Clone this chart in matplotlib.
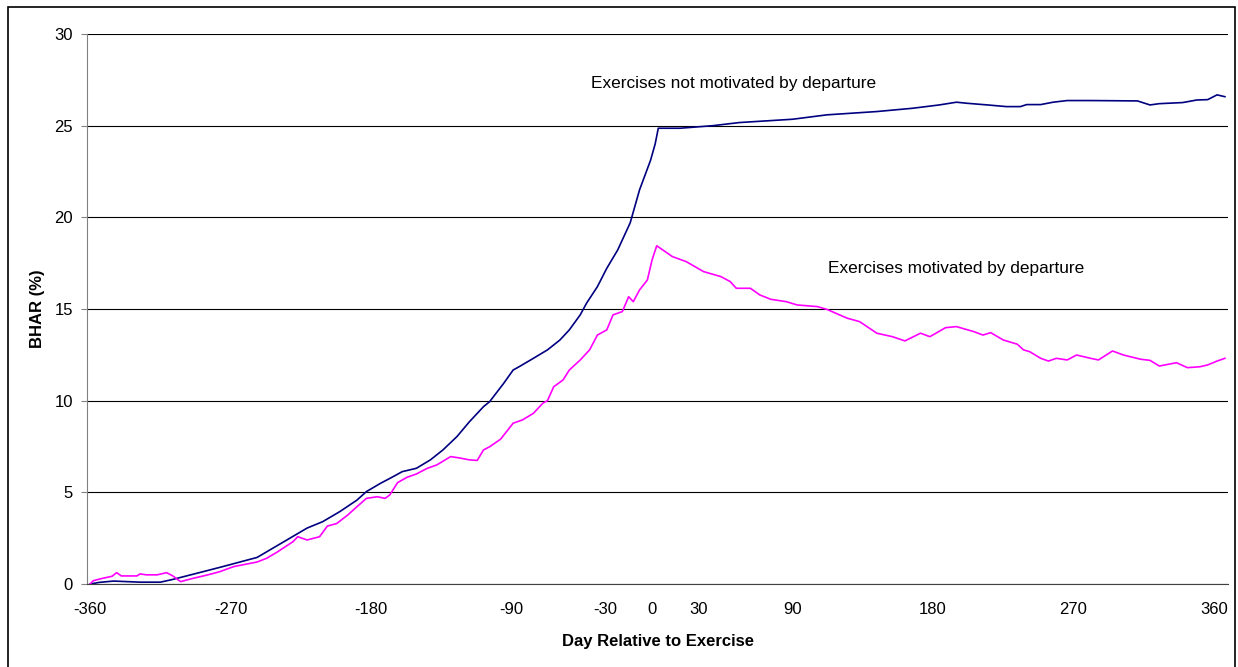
import matplotlib
matplotlib.use("Agg")
import matplotlib.pyplot as plt
from matplotlib.patches import Rectangle

plt.rcParams["font.family"] = ["Liberation Sans", "DejaVu Sans"]
plt.rcParams["axes.unicode_minus"] = False

# BHAR (%) by day relative to exercise, exercises not motivated by departure
days_not = [-360, -354, -345, -328, -315, -307, -296, -285, -275, -264, -253, -245,
            -232, -221, -211, -200, -189, -183, -174, -166, -160, -151, -142, -134,
            -125, -117, -108, -104, -95, -89, -85, -76, -67, -59, -53, -46, -42,
            -35, -29, -22, -14, -8, -1, 2, 4, 18, 39, 56, 90, 112, 144, 167, 184,
            195, 202, 215, 227, 236, 240, 249, 257, 266, 281, 311, 319, 325, 340,
            349, 356, 362, 367]
bhar_not = [0.0, 0.09, 0.16, 0.10, 0.10, 0.25, 0.49, 0.73, 0.95, 1.2, 1.45, 1.85,
            2.5, 3.05, 3.4, 3.95, 4.58, 5.04, 5.49, 5.85, 6.13, 6.31, 6.77, 7.31,
            8.04, 8.85, 9.67, 9.95, 10.95, 11.67, 11.86, 12.31, 12.77, 13.31, 13.86,
            14.68, 15.31, 16.22, 17.22, 18.22, 19.7, 21.5, 23.1, 24.0, 24.86, 24.86,
            25.0, 25.17, 25.35, 25.59, 25.77, 25.95, 26.13, 26.28, 26.22, 26.13,
            26.04, 26.04, 26.15, 26.15, 26.28, 26.37, 26.37, 26.35, 26.13, 26.2,
            26.26, 26.4, 26.42, 26.68, 26.58]

# exercises motivated by departure
days_dep = [-360, -358, -352, -346, -343, -340, -330, -328, -324, -317, -311, -307,
            -304, -302, -294, -285, -277, -268, -259, -253, -247, -240, -230, -227,
            -221, -213, -208, -202, -195, -189, -183, -176, -171, -168, -163, -157,
            -151, -144, -138, -129, -123, -117, -112, -108, -104, -97, -89, -83,
            -76, -70, -67, -63, -57, -53, -46, -40, -35, -29, -25, -19, -15, -12,
            -8, -3, 0, 3, 13, 22, 33, 44, 50, 54, 63, 69, 76, 86, 93, 106, 112,
            125, 133, 144, 154, 162, 172, 178, 188, 195, 206, 212, 217, 225, 234,
            238, 242, 249, 254, 259, 266, 272, 281, 286, 295, 302, 313, 319, 325,
            336, 343, 351, 356, 362, 367]
bhar_dep = [0.0, 0.18, 0.31, 0.42, 0.62, 0.44, 0.44, 0.55, 0.5, 0.5, 0.62, 0.44,
            0.25, 0.13, 0.31, 0.49, 0.67, 0.95, 1.1, 1.2, 1.4, 1.75, 2.31, 2.58,
            2.4, 2.58, 3.16, 3.3, 3.76, 4.22, 4.67, 4.76, 4.67, 4.86, 5.53, 5.82,
            6.0, 6.31, 6.49, 6.95, 6.87, 6.77, 6.74, 7.31, 7.49, 7.9, 8.77, 8.95,
            9.31, 9.86, 10.0, 10.76, 11.13, 11.67, 12.22, 12.77, 13.58, 13.86, 14.68,
            14.86, 15.67, 15.4, 16.04, 16.58, 17.67, 18.45, 17.86, 17.58, 17.04,
            16.77, 16.5, 16.13, 16.13, 15.77, 15.53, 15.4, 15.22, 15.13, 14.98,
            14.5, 14.31, 13.68, 13.49, 13.26, 13.68, 13.49, 13.98, 14.04, 13.77,
            13.58, 13.71, 13.31, 13.08, 12.77, 12.67, 12.31, 12.16, 12.31, 12.22,
            12.49, 12.31, 12.22, 12.71, 12.49, 12.26, 12.2, 11.89, 12.07, 11.8,
            11.85, 11.95, 12.16, 12.31]

x_ticks = [-360, -270, -180, -90, -30, 0, 30, 90, 180, 270, 360]
y_ticks = [0, 5, 10, 15, 20, 25, 30]

fig = plt.figure(figsize=(12.38, 6.67), dpi=100)
fig.patches.append(Rectangle((8 / 1238, -0.01), 1227 / 1238, 1 - 7 / 667 + 0.01,
                             transform=fig.transFigure, fill=False,
                             edgecolor="black", lw=1.2))

ax = fig.add_axes([87 / 1238, 83 / 667, 1141 / 1238, 550 / 667])
ax.plot(days_not, bhar_not, color="#000080", lw=1.2)
ax.plot(days_dep, bhar_dep, color="#FF00FF", lw=1.2)

ax.set_xlim(-362, 369)
ax.set_ylim(0, 30)
ax.set_xticks(x_ticks)
ax.set_yticks(y_ticks)
ax.yaxis.grid(True, color="black", lw=0.8)
ax.set_axisbelow(True)

for side in ["top", "right"]:
    ax.spines[side].set_visible(False)
ax.spines["left"].set_color("#808080")
ax.spines["bottom"].set_color("#404040")
ax.tick_params(axis="x", length=0, pad=13, labelsize=12)
ax.tick_params(axis="y", length=4, pad=6, color="#808080", labelsize=12)

ax.set_xlabel("Day Relative to Exercise", fontsize=12, fontweight="bold", labelpad=12)
ax.set_ylabel("BHAR (%)", fontsize=12, fontweight="bold", labelpad=7)

ax.text(-39, 27.3, "Exercises not motivated by departure", fontsize=12.4,
        ha="left", va="center")
ax.text(113, 17.2, "Exercises motivated by departure", fontsize=12.4,
        ha="left", va="center")

fig.savefig("out.png", dpi=100)
